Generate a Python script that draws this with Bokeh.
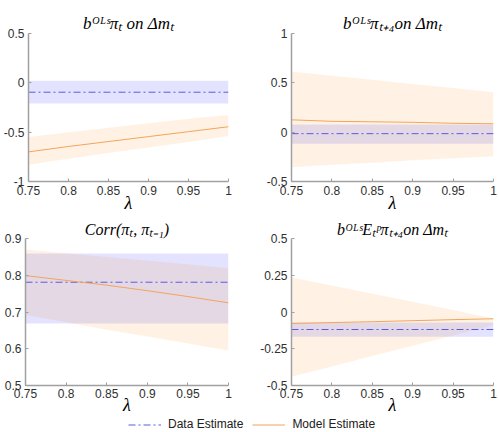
from bokeh.plotting import figure
from bokeh.layouts import column, row
from bokeh.models import Range1d, FixedTicker, Legend, LegendItem
from bokeh.embed import file_html
from bokeh.resources import INLINE

# lambda grid shared by all panels
lam = [0.75, 0.80, 0.85, 0.90, 0.95, 1.00]
x_ticks = [0.75, 0.80, 0.85, 0.90, 0.95, 1.00]
x_tick_labels = ["0.75", "0.8", "0.85", "0.9", "0.95", "1"]

# panel 1: OLS slope of inflation on money growth
p1_data = -0.095
p1_data_lo = -0.21
p1_data_hi = 0.02
p1_model = [-0.70, -0.645, -0.595, -0.545, -0.495, -0.445]
p1_model_lo = [-0.83, -0.77, -0.71, -0.655, -0.60, -0.54]
p1_model_hi = [-0.55, -0.50, -0.455, -0.41, -0.365, -0.325]
p1_yticks = [-1, -0.5, 0, 0.5]
p1_ylabels = ["-1", "-0.5", "0", "0.5"]

# panel 2: OLS slope of inflation four quarters ahead
p2_data = -0.015
p2_data_lo = -0.118
p2_data_hi = 0.078
p2_model = [0.125, 0.11, 0.105, 0.10, 0.09, 0.085]
p2_model_lo = [-0.355, -0.33, -0.31, -0.285, -0.265, -0.243]
p2_model_hi = [0.615, 0.573, 0.531, 0.489, 0.447, 0.405]
p2_yticks = [-0.5, 0, 0.5, 1]
p2_ylabels = ["-0.5", "0", "0.5", "1"]

# panel 3: inflation autocorrelation
p3_data = 0.781
p3_data_lo = 0.669
p3_data_hi = 0.859
p3_model = [0.799, 0.786, 0.773, 0.758, 0.742, 0.725]
p3_model_lo = [0.692, 0.672, 0.652, 0.633, 0.614, 0.595]
p3_model_hi = [0.870, 0.860, 0.850, 0.840, 0.830, 0.820]
p3_yticks = [0.5, 0.6, 0.7, 0.8, 0.9]
p3_ylabels = ["0.5", "0.6", "0.7", "0.8", "0.9"]

# panel 4: OLS slope of professional inflation forecasts
p4_data = -0.119
p4_data_lo = -0.071
p4_data_hi = -0.168
p4_model = [-0.078, -0.072, -0.066, -0.059, -0.052, -0.046]
p4_model_lo = [-0.44, -0.37, -0.30, -0.23, -0.16, -0.09]
p4_model_hi = [0.235, 0.18, 0.125, 0.07, 0.013, -0.044]
p4_yticks = [-0.5, -0.25, 0, 0.25, 0.5]
p4_ylabels = ["-0.5", "-0.25", "0", "0.25", "0.5"]

titles = [
    "bᴼᴸˢπₜ on Δmₜ",
    "bᴼᴸˢπₜ₊₄on Δmₜ",
    "Corr(πₜ, πₜ₋₁)",
    "bᴼᴸˢEₜᵖπₜ₊₄on Δmₜ",
]

DATA_COLOR = "#5a5ae0"
MODEL_COLOR = "#f2a45a"
AXIS_GRAY = "#a0a0a0"
TICK_TEXT = "#303030"
DASH = "7 3 2 3"


def panel(title, width, height, borders, yrange, yticks, ylabels,
          d, d_lo, d_hi, m, m_lo, m_hi, title_size="17px",
          label_standoff=4, lambda_standoff=-5):
    left, right, top, bottom = borders
    p = figure(width=width, height=height,
               x_range=Range1d(0.75, 1.0), y_range=Range1d(*yrange),
               output_backend="svg", toolbar_location=None,
               min_border_left=left, min_border_right=right,
               min_border_top=top, min_border_bottom=bottom)
    p.outline_line_color = None
    p.xgrid.visible = False
    p.ygrid.visible = False

    # data estimate: confidence band and point estimate
    p.varea(x=lam, y1=[d_lo] * len(lam), y2=[d_hi] * len(lam),
            fill_color="#0000ff", fill_alpha=0.11)
    # model estimate: band and central line
    p.varea(x=lam, y1=m_lo, y2=m_hi, fill_color="#ff8000", fill_alpha=0.1)
    p.line(lam, [d] * len(lam), line_color=DATA_COLOR, line_width=1,
           line_dash=DASH)
    p.line(lam, m, line_color=MODEL_COLOR, line_width=1)

    p.title.text = title
    p.title.align = "center"
    p.title.text_font = "Liberation Serif"
    p.title.text_font_style = "italic"
    p.title.text_font_size = title_size
    p.title.text_color = "#000000"
    p.title.standoff = 2

    for ax in (p.xaxis[0], p.yaxis[0]):
        ax.axis_line_color = AXIS_GRAY
        ax.axis_line_width = 1.5
        ax.major_tick_line_color = AXIS_GRAY
        ax.major_tick_in = 3
        ax.major_tick_out = 0
        ax.minor_tick_line_color = None
        ax.major_label_text_font = "Liberation Sans"
        ax.major_label_text_font_size = "12px"
        ax.major_label_text_color = TICK_TEXT
        ax.major_label_standoff = 4

    p.xaxis.major_label_standoff = label_standoff
    p.xaxis.ticker = FixedTicker(ticks=x_ticks)
    p.xaxis.major_label_overrides = dict(zip(x_ticks, x_tick_labels))
    p.xaxis.axis_label = "λ"
    p.xaxis.axis_label_text_font = "Liberation Serif"
    p.xaxis.axis_label_text_font_style = "italic"
    p.xaxis.axis_label_text_font_size = "18px"
    p.xaxis.axis_label_text_color = "#000000"
    p.xaxis.axis_label_standoff = lambda_standoff

    p.yaxis.ticker = FixedTicker(ticks=yticks)
    p.yaxis.major_label_overrides = dict(zip(yticks, ylabels))
    return p


p1 = panel(titles[0], 250, 215, (25, 22, 33, 34), (-1, 0.5), p1_yticks,
           p1_ylabels, p1_data, p1_data_lo, p1_data_hi,
           p1_model, p1_model_lo, p1_model_hi)
p2 = panel(titles[1], 249, 215, (41, 6, 33, 34), (-0.5, 1), p2_yticks,
           p2_ylabels, p2_data, p2_data_lo, p2_data_hi,
           p2_model, p2_model_lo, p2_model_hi)
p3 = panel(titles[2], 250, 202, (25, 22, 23, 32), (0.5, 0.9), p3_yticks,
           p3_ylabels, p3_data, p3_data_lo, p3_data_hi,
           p3_model, p3_model_lo, p3_model_hi,
           title_size="16px", label_standoff=3, lambda_standoff=-6)
p4 = panel(titles[3], 249, 202, (41, 6, 23, 32), (-0.5, 0.5), p4_yticks,
           p4_ylabels, p4_data, p4_data_lo, p4_data_hi,
           p4_model, p4_model_lo, p4_model_hi,
           title_size="16px", label_standoff=3, lambda_standoff=-6)

# shared legend strip beneath the panels; its renderers are hidden and only
# lend their line styles to the legend swatches
leg = figure(width=499, height=15, x_range=Range1d(0.75, 1.0),
             y_range=Range1d(0.5, 0.9),
             output_backend="svg", toolbar_location=None,
             x_axis_location=None, y_axis_location=None,
             min_border_left=0, min_border_right=0,
             min_border_top=0, min_border_bottom=0)
leg.outline_line_color = None
leg.xgrid.visible = False
leg.ygrid.visible = False
r_data = leg.line(lam, [p3_data] * len(lam), line_color=DATA_COLOR,
                  line_width=1, line_dash=DASH, visible=False)
r_model = leg.line(lam, p3_model, line_color=MODEL_COLOR, line_width=1,
                   visible=False)
legend = Legend(items=[LegendItem(label="Data Estimate", renderers=[r_data]),
                       LegendItem(label="Model Estimate", renderers=[r_model])],
                orientation="horizontal", location=(128, 1),
                glyph_width=33, glyph_height=13, label_height=13,
                label_standoff=7, spacing=9, padding=0, margin=0,
                border_line_color=None, background_fill_alpha=0,
                inactive_fill_alpha=0,
                label_text_font="Liberation Sans", label_text_font_size="12px",
                label_text_color="#202020")
leg.add_layout(legend)

layout = column(row(p1, p2), row(p3, p4), leg)

with open("out.html", "w") as f:
    f.write(file_html(layout, INLINE))
